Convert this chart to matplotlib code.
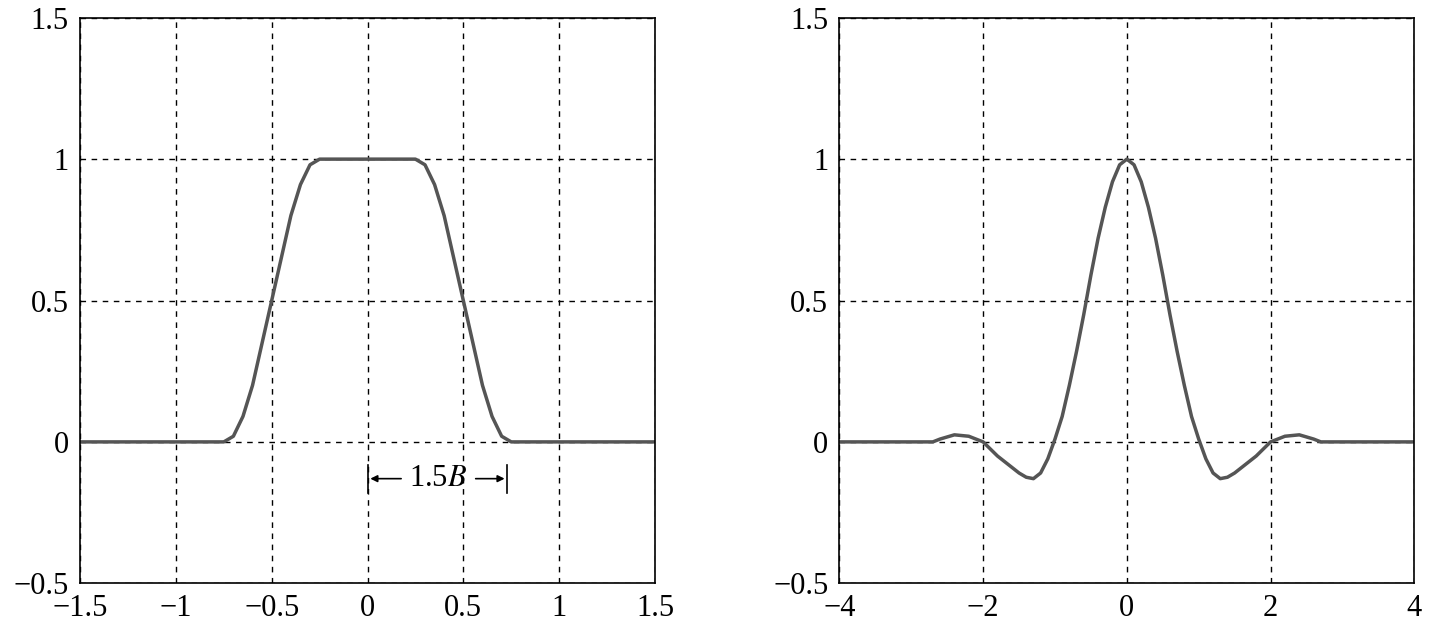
import matplotlib.pyplot as plt

plt.rcParams['font.family'] = ['Liberation Serif', 'DejaVu Serif']
plt.rcParams['mathtext.fontset'] = 'stix'

# spectrum (left), values
f_x = [-1.5, -0.75, -0.7, -0.65, -0.6, -0.55, -0.5, -0.45, -0.4, -0.35, -0.3, -0.25,
       0.25, 0.3, 0.35, 0.4, 0.45, 0.5, 0.55, 0.6, 0.65, 0.7, 0.75, 1.5]
f_y = [0, 0, 0.02, 0.09, 0.2, 0.35, 0.5, 0.65, 0.8, 0.91, 0.98, 1,
       1, 0.98, 0.91, 0.8, 0.65, 0.5, 0.35, 0.2, 0.09, 0.02, 0, 0]

# impulse response (right)
t_pos = [0, 0.1, 0.2, 0.3, 0.4, 0.5, 0.6, 0.7, 0.8, 0.9, 1.0, 1.1, 1.2, 1.3, 1.4,
         1.5, 1.6, 1.8, 2.0, 2.2, 2.4, 2.6, 2.7, 4]
h_pos = [1, 0.98, 0.92, 0.83, 0.72, 0.59, 0.45, 0.32, 0.2, 0.09, 0.01, -0.06, -0.11,
         -0.13, -0.125, -0.11, -0.09, -0.05, 0, 0.02, 0.025, 0.01, 0, 0]
t_x = [-v for v in t_pos[::-1]] + t_pos[1:]
h_y = h_pos[::-1] + h_pos[1:]

fig = plt.figure(figsize=(14.3, 6.34), dpi=100)
ax1 = fig.add_axes([0.056, 0.08, 0.402, 0.892])
ax2 = fig.add_axes([0.587, 0.08, 0.402, 0.892])

for ax, x, y, xt, xl in [(ax1, f_x, f_y, [-1.5, -1, -0.5, 0, 0.5, 1, 1.5], (-1.5, 1.5)),
                         (ax2, t_x, h_y, [-4, -2, 0, 2, 4], (-4, 4))]:
    ax.plot(x, y, color='#555555', lw=2.5, solid_joinstyle='round')
    ax.set_xlim(xl)
    ax.set_ylim(-0.5, 1.5)
    ax.set_xticks(xt)
    ax.set_xticklabels([('\u2212' + str(abs(v)) if v < 0 else str(v)) for v in xt])
    ax.set_yticks([-0.5, 0, 0.5, 1, 1.5])
    ax.set_yticklabels(['\u22120.5', '0', '0.5', '1', '1.5'])
    ax.grid(True, color='black', linestyle=(0, (4, 4)), lw=1)
    ax.tick_params(labelsize=22, direction='in', length=0, pad=8)
    for s in ax.spines.values():
        s.set_linewidth(1.2)

# 1.5B annotation
ya = -0.13
ax1.plot([0, 0], [ya - 0.05, ya + 0.05], color='black', lw=1.2)
ax1.plot([0.73, 0.73], [ya - 0.05, ya + 0.05], color='black', lw=1.2)
ax1.annotate('', xy=(0, ya), xytext=(0.19, ya),
             arrowprops=dict(arrowstyle='-|>', color='black', lw=1.2))
ax1.annotate('', xy=(0.73, ya), xytext=(0.55, ya),
             arrowprops=dict(arrowstyle='-|>', color='black', lw=1.2))
ax1.text(0.37, ya, '1.5$B$', fontsize=22, ha='center', va='center')

fig.savefig('out.png', dpi=100)
